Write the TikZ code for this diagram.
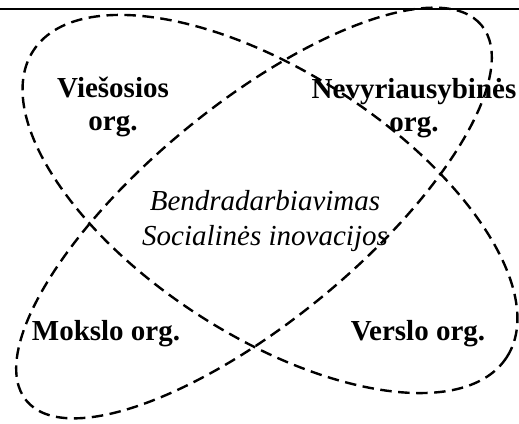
\documentclass[tikz,border=0pt]{standalone}
\usepackage{fontspec}
\setmainfont{Liberation Serif}
\begin{document}
\begin{tikzpicture}[x=1pt,y=1pt,
  orglabel/.style={font=\fontsize{29}{33}\selectfont\bfseries, align=center, inner sep=0pt},
  midlabel/.style={font=\fontsize{29}{35}\selectfont\itshape, align=center, inner sep=0pt},
  dashring/.style={draw=black, line width=2.4pt, dash pattern=on 11.5pt off 6.5pt}]
\useasboundingbox (0,0) rectangle (519,423);
\fill[white] (0,0) rectangle (519,423);
% top rule
\coordinate (ruleL) at (0,414);
\coordinate (ruleR) at (519,414);
\draw[line width=2pt] (ruleL) -- (ruleR);
% ellipses
\coordinate (c1) at (270,219);
\coordinate (c2) at (254,210);
\draw[dashring, rotate around={-32.9:(c1)}] (c1) ellipse [x radius=282, y radius=132];
\draw[dashring, rotate around={39.5:(c2)}] (c2) ellipse [x radius=295, y radius=108];
% labels
\node[orglabel] (vies) at (113,316) {Viešosios\\org.};
\node[orglabel] (nevy) at (414,315) {Nevyriausybinės\\org.};
\node[midlabel] (mid) at (265,202) {Bendradarbiavimas\\Socialinės inovacijos};
\node[orglabel] (moks) at (106,89) {Mokslo org.};
\node[orglabel] (vers) at (418,89) {Verslo org.};
\end{tikzpicture}
\end{document}
